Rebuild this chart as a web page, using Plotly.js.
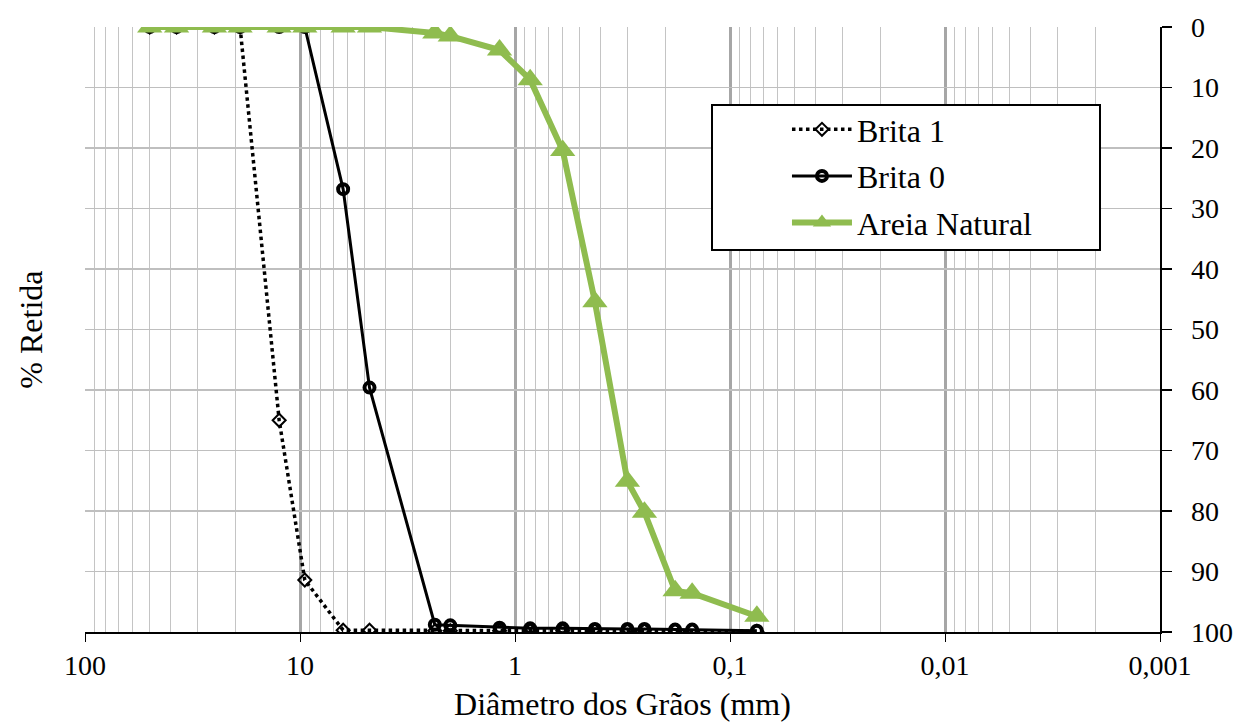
<!DOCTYPE html>
<html>
<head>
<meta charset="utf-8">
<script src="https://cdn.plot.ly/plotly-3.0.1.min.js"></script>
<style>html,body{margin:0;padding:0;background:#fff;}#chart{width:1248px;height:724px;}</style>
</head>
<body>
<div id="chart"></div>
<script>
// Sieve openings (mm)
const sieves = [50, 37.5, 25, 19, 12.5, 9.5, 6.3, 4.75, 2.36, 2.0, 1.18, 0.85, 0.6, 0.425, 0.3, 0.25, 0.18, 0.15, 0.075];
// % Retida acumulada
const brita1 = [0, 0, 0, 0, 65.0, 91.4, 99.7, 99.7, 99.8, 99.8, 99.8, 99.8, 99.8, 99.8, 99.8, 99.8, 99.8, 99.8, 99.9];
const brita0 = [0, 0, 0, 0, 0, 0, 26.8, 59.6, 98.8, 98.9, 99.3, 99.4, 99.4, 99.5, 99.5, 99.5, 99.6, 99.6, 99.8];
const areia  = [0, 0, 0, 0, 0, 0, 0, 0, 1.0, 1.5, 3.8, 8.7, 20.4, 45.4, 75.1, 80.2, 93.2, 93.6, 97.4];
const seriesNames = ["Brita 1", "Brita 0", "Areia Natural"];
const xTickVals = [100, 10, 1, 0.1, 0.01, 0.001];
const xTickText = ["100", "10", "1", "0,1", "0,01", "0,001"];
const yTickVals = [0, 10, 20, 30, 40, 50, 60, 70, 80, 90, 100];

const FONT = "Liberation Serif, Times New Roman, serif";
const GREEN = "#8fbc4f";

const traces = [
  {
    x: sieves, y: brita1, name: seriesNames[0], type: "scatter", mode: "lines+markers",
    legendgroup: "a",
    line: {color: "#000", width: 3.5, dash: "dot"},
    marker: {symbol: "diamond-open", size: 10, color: "#000", line: {color: "#000", width: 2}}
  },
  {
    x: sieves, y: brita0, name: seriesNames[1], type: "scatter", mode: "lines+markers",
    legendgroup: "b",
    line: {color: "#000", width: 3},
    marker: {symbol: "circle-open", size: 10, color: "#000", line: {color: "#000", width: 4}}
  },
  {
    x: sieves, y: areia, name: seriesNames[2], type: "scatter", mode: "lines+markers",
    legendgroup: "c",
    line: {color: GREEN, width: 6},
    marker: {symbol: "triangle-up", size: 22, color: GREEN}
  }
];

const layout = {
  width: 1248, height: 724,
  margin: {l: 85, r: 88, t: 27, b: 92},
  paper_bgcolor: "#fff", plot_bgcolor: "#fff",
  font: {family: FONT, size: 28, color: "#000"},
  showlegend: true,
  legend: {
    x: 0.653, y: 0.876, xanchor: "left", yanchor: "top",
    bgcolor: "rgba(0,0,0,0)", borderwidth: 0,
    font: {family: FONT, size: 32, color: "#000"},
    itemwidth: 60, tracegroupgap: 2
  },
  xaxis: {
    type: "log", range: [2, -3], autorange: false,
    tickmode: "array", tickvals: xTickVals, ticktext: xTickText,
    ticks: "outside", ticklen: 8, tickwidth: 1, tickcolor: "#000",
    showline: true, linecolor: "#000", linewidth: 1.5,
    showgrid: true, gridcolor: "#a6a6a6", gridwidth: 3,
    minor: {dtick: "D1", showgrid: true, gridcolor: "#c4c4c4", gridwidth: 1, ticks: ""},
    zeroline: false,
    tickfont: {family: FONT, size: 28, color: "#000"},
    title: {text: "Diâmetro dos Grãos (mm)", font: {family: FONT, size: 32, color: "#000"}, standoff: 12},
    mirror: false
  },
  yaxis: {
    range: [100, 0], autorange: false, side: "right",
    tickmode: "array", tickvals: yTickVals,
    ticks: "outside", ticklen: 10, tickwidth: 1.5, tickcolor: "#000",
    showline: true, linecolor: "#000", linewidth: 1.5,
    showgrid: true, gridcolor: "#bfbfbf", gridwidth: 1.5,
    zeroline: false,
    tickfont: {family: FONT, size: 28, color: "#000"},
    ticklabelstandoff: 14
  },
  shapes: [
    {type: "rect", xref: "paper", yref: "paper",
     x0: (712 - 85) / 1075, x1: (1100 - 85) / 1075,
     y0: (632 - 250) / 605, y1: (632 - 105) / 605,
     line: {color: "#000", width: 2}, fillcolor: "#fff", layer: "above"}
  ],
  annotations: [
    {text: "% Retida", xref: "paper", yref: "paper", x: -0.051, y: 0.5,
     textangle: -90, showarrow: false, xanchor: "center", yanchor: "middle",
     font: {family: FONT, size: 32, color: "#000"}}
  ]
};

Plotly.newPlot("chart", traces, layout, {displayModeBar: false, staticPlot: true});
</script>
</body>
</html>
